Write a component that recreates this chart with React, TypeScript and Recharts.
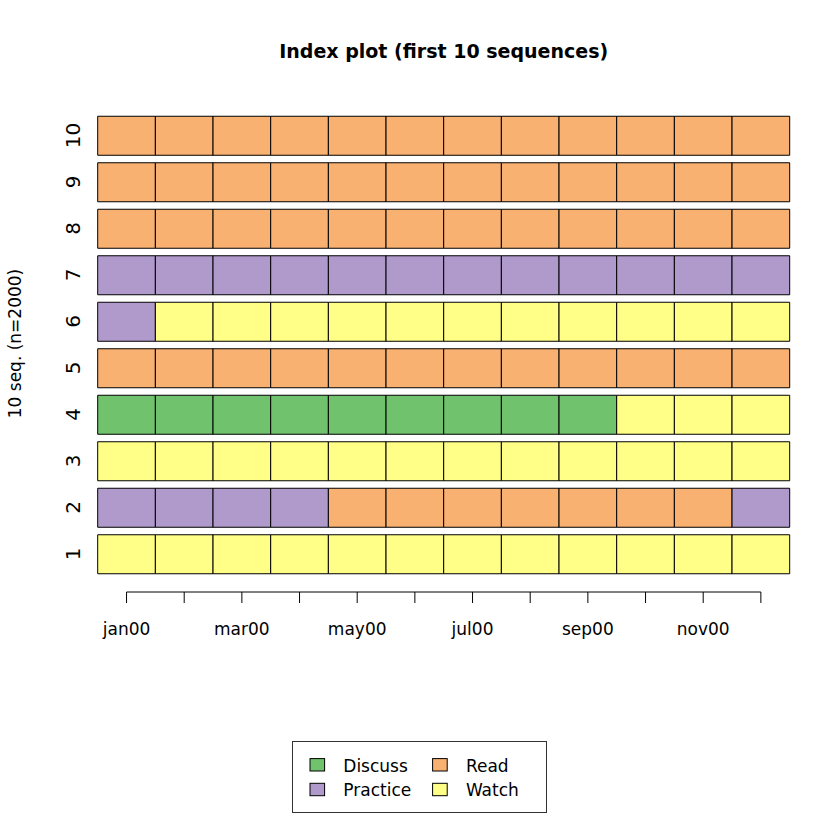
import React from 'react';
import { BarChart, Bar, XAxis, YAxis, Cell, Legend } from 'recharts';

const STATES = ['Discuss', 'Practice', 'Read', 'Watch'];
const STATE_CODES = ['D', 'P', 'R', 'W'];
const STATE_COLORS = ['#70c26c', '#b09acc', '#f9b172', '#ffff88'];

const MONTHS = ['jan00', 'feb00', 'mar00', 'apr00', 'may00', 'jun00', 'jul00', 'aug00', 'sep00', 'oct00', 'nov00', 'dec00'];
const SEQ_IDS = ['1', '2', '3', '4', '5', '6', '7', '8', '9', '10'];

// one string per sequence (sequence 1 first), one state code per month
const SEQUENCES = [
  'WWWWWWWWWWWW',
  'PPPPRRRRRRRP',
  'WWWWWWWWWWWW',
  'DDDDDDDDDWWW',
  'RRRRRRRRRRRR',
  'PWWWWWWWWWWW',
  'PPPPPPPPPPPP',
  'RRRRRRRRRRRR',
  'RRRRRRRRRRRR',
  'RRRRRRRRRRRR',
];

const FONT = '"DejaVu Sans", sans-serif';

// sequence 10 at the top
const rows = SEQ_IDS.map((id, i) => {
  const r: Record<string, any> = { id, seq: SEQUENCES[i] };
  MONTHS.forEach((_, j) => {
    r[`m${j}`] = 1;
  });
  return r;
}).reverse();

const colorOf = (code: string) => STATE_COLORS[STATE_CODES.indexOf(code)];

const XTick = (props: any) => {
  const { x, y, index, width } = props;
  const step = (width ?? 692) / MONTHS.length;
  return (
    <g>
      {index === 0 && (
        <line x1={x} x2={x + step * (MONTHS.length - 1)} y1={y} y2={y} stroke="#000" />
      )}
      <line x1={x} x2={x} y1={y} y2={y + 11} stroke="#000" />
      {index % 2 === 0 && (
        <text x={x} y={y + 43} textAnchor="middle" fontSize={17} fill="#000" fontFamily={FONT}>
          {MONTHS[index]}
        </text>
      )}
    </g>
  );
};

const YTick = (props: any) => {
  const { x, y, payload } = props;
  const tx = x - 17.5;
  return (
    <text
      x={tx}
      y={y}
      transform={`rotate(-90 ${tx} ${y})`}
      textAnchor="middle"
      fontSize={20}
      fill="#000"
      fontFamily={FONT}
    >
      {payload.value}
    </text>
  );
};

const LegendBox = () => (
  <svg width={256} height={73} style={{ display: 'block' }}>
    <rect x={0.5} y={0.5} width={254} height={71} fill="#fff" stroke="#333" />
    {STATES.map((s, i) => {
      const col = Math.floor(i / 2);
      const row = i % 2;
      const sx = 18 + col * 122.6;
      const sy = 17.6 + row * 24.7;
      return (
        <g key={s}>
          <rect x={sx} y={sy} width={14.6} height={12.4} fill={STATE_COLORS[i]} stroke="#000" />
          <text x={sx + 33.3} y={sy + 13} fontSize={17} fill="#000" fontFamily={FONT}>
            {s}
          </text>
        </g>
      );
    })}
  </svg>
);

export default function App() {
  return (
    <div style={{ position: 'absolute', left: 0, top: 0, width: 840, height: 840, background: '#fff', fontFamily: FONT }}>
      <BarChart
        width={840}
        height={840}
        data={rows}
        layout="vertical"
        margin={{ top: 112.25, right: 50.3, bottom: 198, left: 37.7 }}
      >
        <XAxis
          type="number"
          domain={[0, MONTHS.length]}
          ticks={MONTHS.map((_, j) => j + 0.5)}
          interval={0}
          axisLine={false}
          tickLine={false}
          tickSize={0}
          tickMargin={0}
          height={50}
          tick={<XTick />}
        />
        <YAxis
          type="category"
          dataKey="id"
          width={60}
          axisLine={false}
          tickLine={false}
          tickSize={0}
          tickMargin={0}
          padding={{ top: 0, bottom: 14.75 }}
          interval={0}
          tick={<YTick />}
        />
        <Legend
          layout="horizontal"
          verticalAlign="middle"
          align="center"
          wrapperStyle={{ left: 292, top: 741, width: 256, height: 73 }}
          content={() => <LegendBox />}
        />
        {MONTHS.map((m, j) => (
          <Bar key={m} dataKey={`m${j}`} stackId="seq" barSize={39} isAnimationActive={false}>
            {rows.map((r) => (
              <Cell key={r.id} fill={colorOf(r.seq[j])} stroke="#000" strokeWidth={1} />
            ))}
          </Bar>
        ))}
      </BarChart>
      <svg width={840} height={840} style={{ position: 'absolute', left: 0, top: 0, pointerEvents: 'none' }}>
        <text x={443.7} y={58.3} textAnchor="middle" fontSize={19} fontWeight="bold" fill="#000" fontFamily={FONT}>
          Index plot (first 10 sequences)
        </text>
        <text
          x={21}
          y={343.5}
          transform="rotate(-90 21 343.5)"
          textAnchor="middle"
          fontSize={17}
          fill="#000"
          fontFamily={FONT}
        >
          10 seq. (n=2000)
        </text>
      </svg>
    </div>
  );
}
